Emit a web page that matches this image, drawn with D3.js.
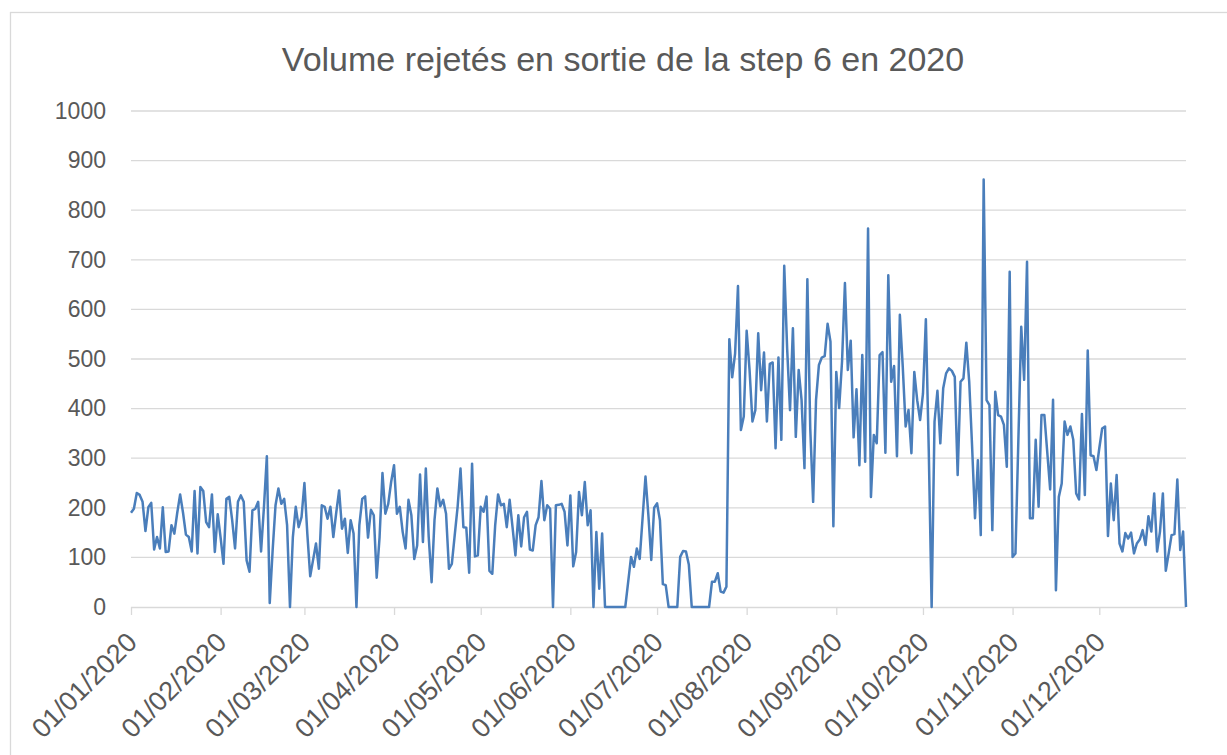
<!DOCTYPE html>
<html><head><meta charset="utf-8">
<script src="https://cdn.jsdelivr.net/npm/d3@7"></script>
<style>
body{margin:0;background:#fff;}
svg{display:block;}
text{font-family:"Liberation Sans", Arial, sans-serif;fill:#595959;}
</style>
</head><body>
<svg id="c" width="1227" height="755"></svg>
<script>
const chartTitle = "Volume rejetés en sortie de la step 6 en 2020";
const yTickValues = [0,100,200,300,400,500,600,700,800,900,1000];
const xTickLabels = ["01/01/2020","01/02/2020","01/03/2020","01/04/2020","01/05/2020","01/06/2020","01/07/2020","01/08/2020","01/09/2020","01/10/2020","01/11/2020","01/12/2020"];
const firstDay = "01/01/2020";
const lastDay = "31/12/2020";

// daily values, one array per month
const jan = [190,198,230,226,212,153,201,210,116,141,118,201,111,112,165,148,190,227,190,146,141,112,234,108,242,234,171,161,227,111,187];
const feb = [140,87,218,222,175,118,212,225,212,94,71,195,198,212,112,202,304,8,114,205,239,208,218,165,0,141,202,161,181];
const mar = [250,148,62,95,128,77,205,202,178,202,141,190,235,158,178,109,175,148,0,165,218,223,140,196,185,59,141,270,188,208,252];
const apr = [286,188,202,151,118,216,185,97,124,267,131,279,141,50,175,239,203,216,188,77,87,145,202,279,161,160,69,289,102,104];
const may = [202,192,223,73,67,165,227,205,208,161,216,161,104,185,122,181,192,116,114,165,181,254,175,205,198,0,205,206,208,192,124];
const jun = [225,82,111,232,185,252,165,195,0,151,37,148,0,0,0,0,0,0,0,0,50,101,81,118,97,180,263,185,95,200];
const jul = [209,175,46,44,0,0,0,0,101,113,112,85,0,0,0,0,0,0,0,51,51,68,31,29,41,540,463,511,647,357,384];
const aug = [557,478,374,397,552,437,513,374,490,493,320,503,337,688,522,397,562,343,478,417,280,661,360,212,417,488,503,506,571,535,163];
const sep = [474,401,495,653,478,537,342,439,286,508,293,763,222,347,330,508,514,311,669,454,486,304,589,485,364,397,310,474,417,377];
const oct = [430,580,317,0,374,436,330,441,471,481,476,464,266,454,461,533,454,323,179,296,145,862,417,407,155,434,387,384,367,283,676];
const nov = [101,108,336,565,458,696,179,179,337,202,387,387,312,237,418,34,222,249,374,347,364,337,229,217,389,226,517,306,304,276];
const dec = [320,360,364,143,249,175,266,128,112,149,138,150,108,128,136,155,125,183,152,229,112,152,229,73,108,145,147,257,115,152,0];

const values = [].concat(jan,feb,mar,apr,may,jun,jul,aug,sep,oct,nov,dec);
const parse = d3.timeParse("%d/%m/%Y");
const fmt = d3.timeFormat("%d/%m/%Y");
const start = parse(firstDay);
const data = values.map((v,i)=>({date:d3.timeDay.offset(start,i), v:v}));

const svg = d3.select("#c");
const L=131, R=1186, T=111, B=607;
const x = d3.scaleTime().domain([start, parse(lastDay)]).range([L,R]);
const y = d3.scaleLinear().domain([0,1000]).range([B,T]);

// chart border
svg.append("rect").attr("x",10.5).attr("y",12.5).attr("width",1240).attr("height",780)
  .attr("fill","none").attr("stroke","#d9d9d9").attr("stroke-width",1.3);

// title
svg.append("text").attr("x",623).attr("y",71).attr("text-anchor","middle")
  .style("font-size","34px").text(chartTitle);

// gridlines
svg.append("g").selectAll("line").data(yTickValues.filter(d=>d>0)).join("line")
  .attr("x1",L).attr("x2",R).attr("y1",d=>y(d)).attr("y2",d=>y(d))
  .attr("stroke","#d9d9d9").attr("stroke-width",1.3);

// y axis labels
const yAxis = d3.axisLeft(y).tickValues(yTickValues).tickSize(0).tickPadding(0).tickFormat(d3.format("d"));
const gy = svg.append("g").attr("transform",`translate(${L-25},0)`).call(yAxis);
gy.select(".domain").remove();
gy.selectAll("text").style("font-size","23px").attr("fill","#595959").style("font-family","'Liberation Sans', Arial, sans-serif");

// x axis
const xAxis = d3.axisBottom(x).tickValues(xTickLabels.map(parse)).tickSize(8).tickFormat(fmt);
const gx = svg.append("g").attr("transform",`translate(0,${B})`).call(xAxis);
gx.select(".domain").attr("stroke","#d9d9d9").attr("stroke-width",1.3).attr("d",`M${L},0.5H${R}`);
gx.selectAll(".tick line").attr("stroke","#d9d9d9").attr("stroke-width",1.3);
gx.selectAll(".tick text").attr("y",0).attr("dy",0)
  .attr("transform","translate(7,37) rotate(-45)")
  .attr("text-anchor","end").style("font-size","27px").attr("fill","#595959")
  .style("font-family","'Liberation Sans', Arial, sans-serif");

// line
const line = d3.line().x(d=>x(d.date)).y(d=>y(d.v));
svg.append("path").datum(data).attr("d",line).attr("fill","none")
  .attr("stroke","#4a7ebb").attr("stroke-width",2.5).attr("stroke-linejoin","round");
</script>
</body></html>
